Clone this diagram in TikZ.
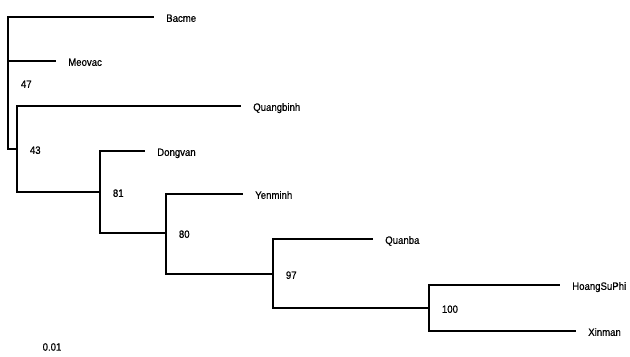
\documentclass[tikz,border=0pt]{standalone}
\usepackage{fontspec}
\setmainfont[FakeStretch=0.9,FakeBold=0.6]{Liberation Sans}
\begin{document}
\begin{tikzpicture}[x=0.75pt,y=-0.75pt,
  branch/.style={line width=1.3pt, line cap=rect},
  taxon/.style={anchor=west, inner sep=0pt, font=\fontsize{8}{9}\selectfont, text height=1.38ex, text depth=0pt, xshift=9.75pt},
  boot/.style={anchor=west, inner sep=0pt, font=\fontsize{8}{9}\selectfont, text height=1.38ex, text depth=0pt, xshift=9.5pt}]
\useasboundingbox (0,0) rectangle (630,356);

% branch tips
\coordinate (tBacme) at (153,17);
\coordinate (tMeovac) at (55,61);
\coordinate (tQuangbinh) at (240,106);
\coordinate (tDongvan) at (144,151);
\coordinate (tYenminh) at (242,194);
\coordinate (tQuanba) at (372,239);
\coordinate (tHoang) at (559,285);
\coordinate (tXinman) at (575,331);

% internal nodes
\coordinate (nRoot) at (8,149);
\coordinate (nMid) at (8,83);
\coordinate (n43) at (17,149);
\coordinate (n81) at (100,192);
\coordinate (n80) at (166,233);
\coordinate (n97) at (273,274);
\coordinate (n100) at (429,308);

% branches
\draw[branch] (tBacme) -| (nRoot) -- (n43);
\draw[branch] (tMeovac) -- (tMeovac -| nRoot);
\draw[branch] (tQuangbinh) -| (n43) |- (n81);
\draw[branch] (tDongvan) -| (n81) |- (n80);
\draw[branch] (tYenminh) -| (n80) |- (n97);
\draw[branch] (tQuanba) -| (n97) |- (n100);
\draw[branch] (tHoang) -| (n100) |- (tXinman);

% taxon labels
\node[taxon] (Bacme) at (tBacme) {Bacme};
\node[taxon] (Meovac) at (tMeovac) {Meovac};
\node[taxon] (Quangbinh) at (tQuangbinh) {Quangbinh};
\node[taxon] (Dongvan) at (tDongvan) {Dongvan};
\node[taxon] (Yenminh) at (tYenminh) {Yenminh};
\node[taxon] (Quanba) at (tQuanba) {Quanba};
\node[taxon] (HoangSuPhi) at (tHoang) {HoangSuPhi};
\node[taxon] (Xinman) at (tXinman) {Xinman};

% bootstrap support
\node[boot] (b47) at (nMid) {47};
\node[boot] (b43) at (n43) {43};
\node[boot] (b81) at (n81) {81};
\node[boot] (b80) at (n80) {80};
\node[boot] (b97) at (n97) {97};
\node[boot] (b100) at (n100) {100};

% scale
\node[inner sep=0pt, font=\fontsize{8}{9}\selectfont] (scale) at (52,347) {0.01};
\end{tikzpicture}
\end{document}
